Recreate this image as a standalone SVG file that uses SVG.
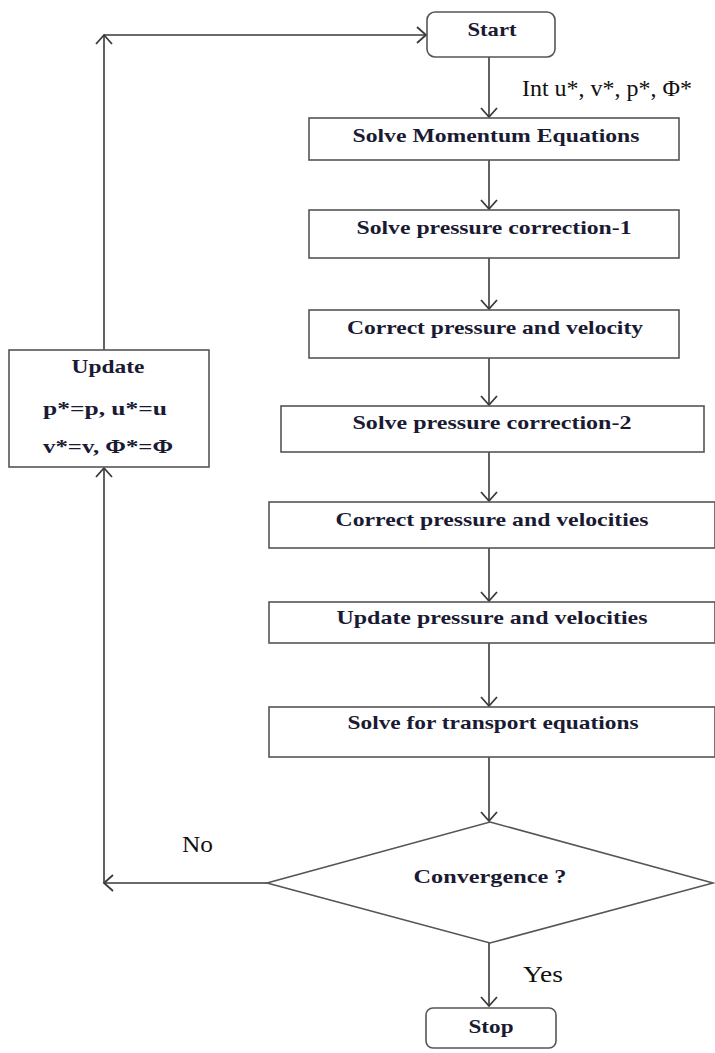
<svg xmlns="http://www.w3.org/2000/svg" width="715" height="1053" viewBox="0 0 715 1053">
<style>
.box{fill:#fff;stroke:#555;stroke-width:1.6}
.t{font-family:"Liberation Serif","Times New Roman",serif;font-weight:bold;font-size:19px;fill:#1a1a33;text-anchor:middle}
.l{font-family:"Liberation Serif","Times New Roman",serif;font-size:23px;fill:#111}
.c{fill:none;stroke:#3a3a3a;stroke-width:1.6}
</style>
<defs>
<marker id="arr" markerUnits="userSpaceOnUse" markerWidth="22" markerHeight="22" viewBox="-11 -11 22 22" refX="0" refY="0" orient="auto">
<path d="M-9,-8 L0,0 L-9,8" fill="none" stroke="#3a3a3a" stroke-width="1.8"/>
</marker>
</defs>
<g id="connectors">
<line class="c" x1="489" y1="57" x2="489" y2="117" marker-end="url(#arr)"/>
<line class="c" x1="489" y1="160" x2="489" y2="209" marker-end="url(#arr)"/>
<line class="c" x1="489" y1="258" x2="489" y2="309" marker-end="url(#arr)"/>
<line class="c" x1="489" y1="358" x2="489" y2="405" marker-end="url(#arr)"/>
<line class="c" x1="489" y1="452" x2="489" y2="501" marker-end="url(#arr)"/>
<line class="c" x1="489" y1="548" x2="489" y2="601" marker-end="url(#arr)"/>
<line class="c" x1="489" y1="643" x2="489" y2="706" marker-end="url(#arr)"/>
<line class="c" x1="489" y1="757" x2="489" y2="821" marker-end="url(#arr)"/>
<line class="c" x1="489" y1="943" x2="489" y2="1006" marker-end="url(#arr)"/>
<line class="c" x1="267" y1="883" x2="104" y2="883" marker-end="url(#arr)"/>
<line class="c" x1="104" y1="883" x2="104" y2="468" marker-end="url(#arr)"/>
<line class="c" x1="104" y1="350" x2="104" y2="35" marker-end="url(#arr)"/>
<line class="c" x1="104" y1="35" x2="426" y2="35" marker-end="url(#arr)"/>
<text class="l" x="522" y="96" textLength="170" lengthAdjust="spacingAndGlyphs">Int u*, v*, p*, Φ*</text>
<text class="l" x="182" y="852" font-size="25" textLength="31" lengthAdjust="spacingAndGlyphs">No</text>
<text class="l" x="523" y="982" font-size="25" textLength="40" lengthAdjust="spacingAndGlyphs">Yes</text>
</g>
<g id="start">
<rect class="box" x="427" y="12" width="128" height="45" rx="8"/>
<text class="t" x="492" y="36" textLength="49" lengthAdjust="spacingAndGlyphs">Start</text>
</g>
<g id="momentum">
<rect class="box" x="309" y="118" width="370" height="42"/>
<text class="t" x="496" y="142" textLength="287" lengthAdjust="spacingAndGlyphs">Solve Momentum Equations</text>
</g>
<g id="pc1">
<rect class="box" x="309" y="210" width="370" height="48"/>
<text class="t" x="494" y="234" textLength="275" lengthAdjust="spacingAndGlyphs">Solve pressure correction-1</text>
</g>
<g id="cpv">
<rect class="box" x="309" y="310" width="370" height="48"/>
<text class="t" x="495" y="334" textLength="296" lengthAdjust="spacingAndGlyphs">Correct pressure and velocity</text>
</g>
<g id="pc2">
<rect class="box" x="281" y="406" width="423" height="46"/>
<text class="t" x="492" y="429" textLength="279" lengthAdjust="spacingAndGlyphs">Solve pressure correction-2</text>
</g>
<g id="cpvs">
<rect class="box" x="269" y="502" width="446" height="46"/>
<text class="t" x="492" y="526" textLength="313" lengthAdjust="spacingAndGlyphs">Correct pressure and velocities</text>
</g>
<g id="upvs">
<rect class="box" x="269" y="602" width="446" height="41"/>
<text class="t" x="492" y="624" textLength="311" lengthAdjust="spacingAndGlyphs">Update pressure and velocities</text>
</g>
<g id="transport">
<rect class="box" x="269" y="707" width="446" height="50"/>
<text class="t" x="493" y="729" textLength="291" lengthAdjust="spacingAndGlyphs">Solve for transport equations</text>
</g>
<g id="convergence">
<polygon class="box" points="490,822 713,883 490,943 267,883"/>
<text class="t" x="490" y="883" textLength="153" lengthAdjust="spacingAndGlyphs">Convergence ?</text>
</g>
<g id="stop">
<rect class="box" x="426" y="1008" width="130" height="40" rx="7"/>
<text class="t" x="491" y="1033" textLength="45" lengthAdjust="spacingAndGlyphs">Stop</text>
</g>
<g id="update">
<rect class="box" x="9" y="350" width="200" height="117"/>
<text class="t" x="108" y="373" textLength="73" lengthAdjust="spacingAndGlyphs">Update</text>
<text class="t" x="105" y="415" textLength="124" lengthAdjust="spacingAndGlyphs">p*=p,  u*=u</text>
<text class="t" x="108" y="453" textLength="130" lengthAdjust="spacingAndGlyphs">v*=v,  Φ*=Φ</text>
</g>
</svg>
